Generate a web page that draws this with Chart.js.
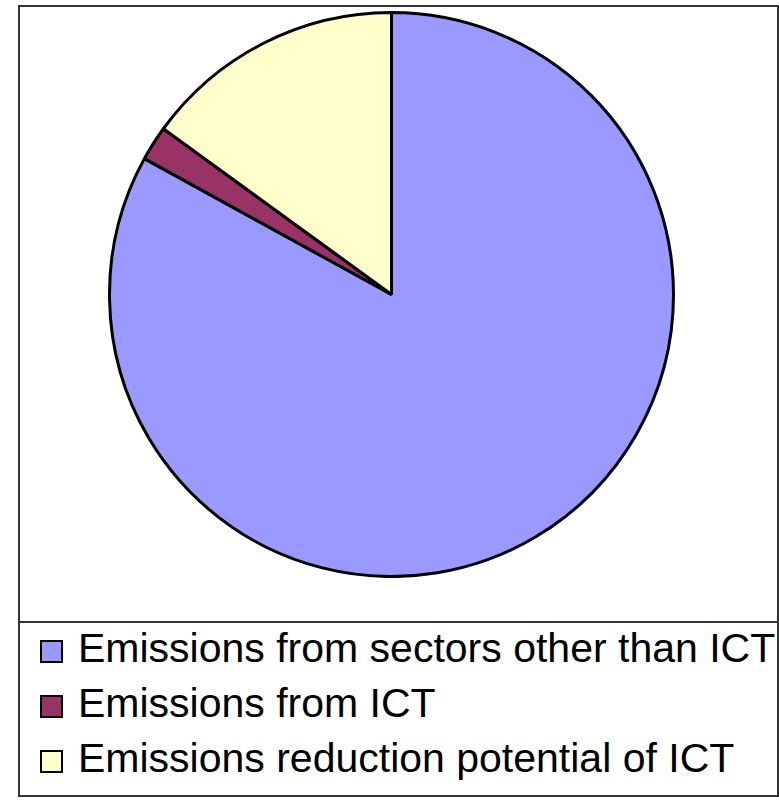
<!DOCTYPE html>
<html lang="en">
<head>
  <meta charset="UTF-8">
  <title>ICT Emissions Pie</title>
  <script src="https://cdn.jsdelivr.net/npm/chart.js"></script>
  <style>
    body { margin: 0; background: #fff; font-family: "Liberation Sans", Arial, sans-serif; }
    #frame { position: absolute; left: 18px; top: 5px; width: 757px; height: 788px; border: 2px solid #333; }
    #sep { position: absolute; left: 18px; top: 621px; width: 761px; height: 0; border-top: 2px solid #333; }
    #wrap { position: absolute; left: 108px; top: 11px; width: 567px; height: 567px; }
    .row { position: absolute; left: 0; height: 41px; line-height: 41px; font-size: 41px; white-space: nowrap; color: #000; }
    .row span.box { position: absolute; left: 40px; top: 12px; width: 19px; height: 19px; border: 2px solid #000; }
    .row span.txt { position: absolute; left: 78px; top: 0; }
  </style>
</head>
<body>

<div id="frame"></div>
<div id="sep"></div>
<div id="wrap"><canvas id="chart" width="567" height="567"></canvas></div>
<div id="legend"></div>

<script>
const labels = [
  'Emissions from sectors other than ICT',
  'Emissions from ICT',
  'Emissions reduction potential of ICT'
];
const values = [83, 2, 15];
const colors = ['#9999FF', '#993366', '#FFFFCC'];

// legend as plain html rows
const legend = document.getElementById('legend');
labels.forEach((lab, i) => {
  const row = document.createElement('div');
  row.className = 'row';
  row.style.top = (628 + i * 55) + 'px';
  row.innerHTML = '<span class="box" style="background:' + colors[i] + '"></span><span class="txt"></span>';
  row.querySelector('.txt').textContent = lab;
  legend.appendChild(row);
});

new Chart(document.getElementById('chart').getContext('2d'), {
  type: 'pie',
  data: {
    labels: labels,
    datasets: [{
      data: values,
      backgroundColor: colors,
      borderColor: '#000',
      borderWidth: 3
    }]
  },
  options: {
    responsive: false,
    animation: false,
    layout: { padding: 0 },
    plugins: {
      legend: { display: false },
      tooltip: { enabled: false }
    }
  }
});
</script>

</body>
</html>
